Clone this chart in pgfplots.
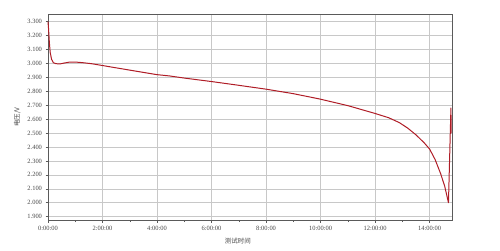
\documentclass[border=0pt]{standalone}
\usepackage{pgfplots}
\pgfplotsset{compat=1.18}
\usepackage{fontspec}
\setmainfont{Liberation Serif}
\newfontfamily\cjk{Noto Sans CJK SC}
\definecolor{curve}{RGB}{175,28,38}
\definecolor{gridc}{RGB}{200,200,200}
\definecolor{framec}{RGB}{90,90,90}
\definecolor{tickc}{RGB}{70,70,70}
\begin{document}
\begin{tikzpicture}[x=1bp,y=1bp]
\useasboundingbox (0,0) rectangle (500,250);
\begin{axis}[
  at={(48bp,30bp)}, anchor=south west,
  scale only axis, width=404bp, height=206bp,
  xmin=0, xmax=14.82, ymin=1.876, ymax=3.355,
  xtick={0,2,...,14},
  xticklabels={0:00:00,2:00:00,4:00:00,6:00:00,8:00:00,10:00:00,12:00:00,14:00:00},
  minor xtick={1,3,...,13},
  ytick={1.9,2.0,...,3.31},
  xtick pos=bottom, ytick pos=left,
  yticklabel style={/pgf/number format/.cd,fixed,fixed zerofill,precision=3},
  /pgf/number format/assume math mode=true,
  ticklabel style={font=\fontsize{6.5}{7}\selectfont, text=tickc},
  xmajorgrids, ymajorgrids,
  major grid style={gridc, line width=0.6pt},
  tick align=outside,
  major tick length=2.5bp, minor tick length=2bp,
  tick style={framec, line width=0.5pt},
  axis line style={framec, line width=0.6pt},
  xlabel={\cjk 测试时间}, ylabel={\cjk 电压/V},
  label style={font=\fontsize{6.5}{7}\selectfont, text=tickc},
  xlabel style={at={(ticklabel cs:0.47)}, anchor=north, yshift=-1bp},
  ylabel style={at={(ticklabel cs:0.5)}, anchor=south, yshift=0bp},
  clip=false,
]
\addplot[curve, line width=1pt, line join=round] coordinates {
(0.00,3.300) (0.02,3.250) (0.05,3.150) (0.08,3.080) (0.13,3.030)
(0.20,3.005) (0.30,2.998) (0.45,2.997) (0.60,3.003) (0.80,3.010)
(1.00,3.010) (1.30,3.005) (1.60,2.998) (2.00,2.985) (3.00,2.952)
(3.98,2.920) (4.47,2.910) (5.00,2.895) (6.00,2.870) (7.00,2.843)
(8.01,2.815) (9.00,2.783) (9.96,2.745) (11.00,2.697) (11.98,2.642)
(12.50,2.610) (12.89,2.575) (13.20,2.535) (13.50,2.487) (13.80,2.430)
(14.00,2.385) (14.20,2.310) (14.40,2.210) (14.55,2.120) (14.69,2.000)
(14.78,2.680) (14.79,2.500)
};
\end{axis}
\end{tikzpicture}
\end{document}
